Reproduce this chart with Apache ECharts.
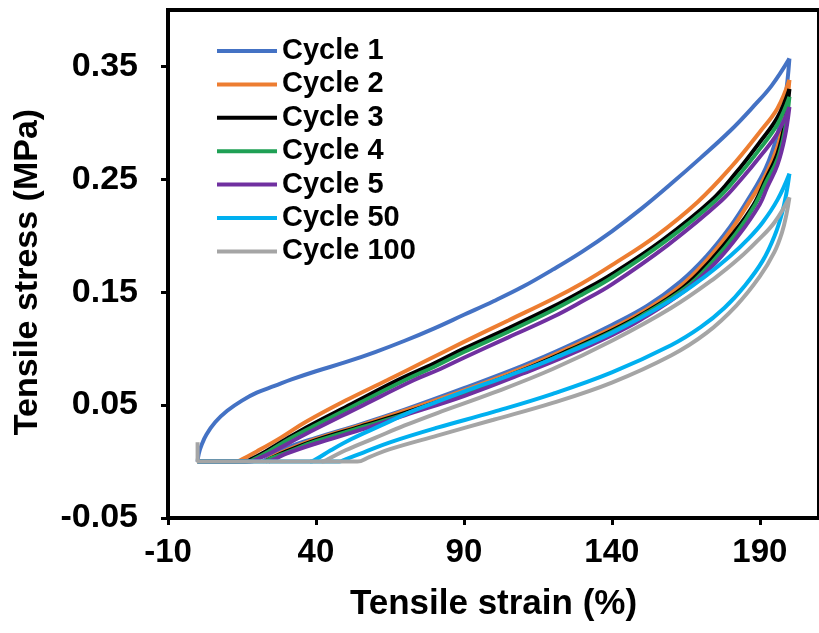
<!DOCTYPE html>
<html lang="en">
<head>
    <meta charset="UTF-8">
    <title>Cyclic tensile test</title>
    <script src="https://cdn.jsdelivr.net/npm/echarts/dist/echarts.min.js"></script>
    <style>
        html, body {margin: 0; padding: 0; background: #fff;}
    </style>
</head>
<body>
<div id="cycleChart" style="width: 819px;height: 633px;"></div>
<script type="text/javascript">
    // [strain %, stress MPa] - loading branch and unloading branch of each cycle
    var cycle1Load = [[0,0],[0.4,0.007],[1.4,0.015],[3,0.024],[6,0.035],[10,0.045],[15,0.054],[20,0.061],[26,0.067],[32,0.073],[40,0.08],[50,0.088],[60,0.097],[70,0.107],[80,0.118],[90,0.13],[100,0.142],[110,0.155],[120,0.17],[130,0.186],[140,0.204],[150,0.224],[160,0.246],[170,0.269],[180,0.293],[188,0.315],[194,0.333],[200,0.357]];
    var cycle1Unload = [[200,0.357],[198.5,0.32],[196,0.29],[192,0.26],[186,0.232],[180,0.208],[172,0.182],[163,0.159],[152,0.138],[140,0.121],[125,0.102],[110,0.085],[90,0.065],[70,0.046],[55,0.033],[40,0.021],[30,0.012],[25,0.005],[22,0]];
    var cycle2Load = [[0,0],[13,0],[15,0.002],[20,0.009],[28,0.021],[36.5,0.035],[50,0.054],[64,0.072],[77,0.089],[90,0.106],[105,0.125],[120,0.144],[130,0.158],[140,0.174],[155,0.2],[169,0.23],[180,0.26],[190,0.292],[196,0.313],[200,0.338]];
    var cycle2Unload = [[200,0.338],[198.5,0.306],[196,0.279],[192,0.254],[186,0.228],[180,0.204],[172,0.178],[163,0.155],[150,0.132],[140,0.118],[125,0.1],[110,0.083],[90,0.063],[70,0.045],[55,0.032],[40,0.02],[30,0.01],[25,0.004],[23,0]];
    var cycle3Load = [[0,0],[16,0],[18,0.002],[23,0.009],[30,0.02],[38,0.032],[52,0.051],[67.5,0.072],[80,0.087],[90,0.1],[105,0.118],[120,0.137],[130,0.151],[140,0.166],[157,0.196],[173.5,0.231],[182,0.256],[190,0.283],[196,0.305],[200,0.33]];
    var cycle3Unload = [[200,0.33],[198.5,0.3],[196,0.273],[192,0.25],[188,0.228],[181,0.202],[173,0.177],[164,0.154],[150,0.13],[140,0.116],[125,0.098],[110,0.081],[90,0.061],[70,0.043],[55,0.031],[40,0.019],[30,0.009],[25,0.003],[23,0]];
    var cycle4Load = [[0,0],[17,0],[19,0.002],[24,0.009],[31,0.02],[39,0.031],[54,0.051],[70,0.072],[80,0.084],[90,0.097],[105,0.115],[120,0.134],[130,0.148],[140,0.163],[158,0.195],[175,0.231],[183,0.254],[190,0.277],[196,0.299],[200,0.323]];
    var cycle4Unload = [[200,0.323],[198.5,0.294],[196,0.268],[192,0.247],[188.5,0.228],[182,0.202],[174,0.177],[165,0.154],[150,0.129],[140,0.115],[125,0.097],[110,0.08],[90,0.06],[70,0.042],[55,0.03],[40,0.018],[30,0.008],[25,0.003],[23,0]];
    var cycle5Load = [[0,0],[18,0],[20,0.002],[25,0.008],[32,0.018],[40,0.029],[56,0.05],[73,0.072],[82,0.082],[90,0.092],[105,0.11],[120,0.128],[130,0.142],[140,0.157],[159,0.192],[177,0.231],[184,0.251],[190,0.27],[196,0.291],[200,0.314]];
    var cycle5Unload = [[200,0.314],[198.5,0.288],[196,0.263],[192.5,0.243],[190,0.228],[183,0.201],[175,0.176],[165,0.152],[150,0.126],[140,0.112],[125,0.094],[110,0.078],[90,0.058],[70,0.041],[55,0.028],[40,0.016],[30,0.007],[26,0.002],[24,0]];
    var cycle50Load = [[0,0],[38,0],[40,0.002],[45,0.01],[52,0.02],[62,0.032],[72,0.044],[81,0.053],[90,0.062],[105,0.076],[120,0.091],[140,0.114],[160,0.143],[172,0.165],[180,0.182],[186,0.197],[191,0.212],[196,0.232],[200,0.255]];
    var cycle50Unload = [[200,0.255],[199,0.238],[197.5,0.22],[195,0.2],[191,0.178],[185,0.156],[178,0.136],[170,0.119],[160,0.103],[140,0.079],[120,0.06],[100,0.044],[81,0.03],[65,0.017],[56,0.008],[50,0.002],[48,0],[46,0],[38,0]];
    var cycle100Load = [[0,0.017],[0,0],[42,0],[44,0.002],[50,0.01],[60,0.021],[70,0.032],[81,0.043],[100,0.061],[120,0.082],[140,0.107],[160,0.136],[175,0.163],[183,0.18],[189,0.195],[195,0.212],[200,0.234]];
    var cycle100Unload = [[200,0.234],[199,0.219],[197.5,0.203],[195,0.186],[190,0.164],[182,0.138],[172,0.114],[160,0.094],[140,0.07],[120,0.052],[100,0.037],[81,0.023],[65,0.011],[58,0.004],[54,0],[52,0],[42,0]];

    var cycleNames = ['Cycle 1', 'Cycle 2', 'Cycle 3', 'Cycle 4', 'Cycle 5', 'Cycle 50', 'Cycle 100'];
    var loadData = [cycle1Load, cycle2Load, cycle3Load, cycle4Load, cycle5Load, cycle50Load, cycle100Load];
    var unloadData = [cycle1Unload, cycle2Unload, cycle3Unload, cycle4Unload, cycle5Unload, cycle50Unload, cycle100Unload];
    var cycleColors = ['#4472C4', '#ED7D31', '#000000', '#1FA055', '#7030A0', '#00B0F0', '#A5A5A5'];
    var xTicks = [-10, 40, 90, 140, 190];
    var yTicks = [-0.05, 0.05, 0.15, 0.25, 0.35];

    var fontName = "'Liberation Sans', Arial, sans-serif";

    var seriesList = [];
    for (var i = 0; i < cycleNames.length; i++) {
        var branches = [loadData[i], unloadData[i]];
        for (var j = 0; j < branches.length; j++) {
            seriesList.push({
                name: cycleNames[i],
                type: 'line',
                data: branches[j],
                smooth: 0.4,
                showSymbol: false,
                symbol: 'none',
                lineStyle: {width: 4, color: cycleColors[i]},
                itemStyle: {color: cycleColors[i]}
            });
        }
    }

    var chart = echarts.init(document.getElementById('cycleChart'));
    var option = {
        animation: false,
        backgroundColor: '#fff',
        grid: {
            left: 168,
            top: 10,
            width: 658,
            height: 508,
            show: true,
            borderColor: '#000',
            borderWidth: 4
        },
        legend: {
            orient: 'vertical',
            left: 212,
            top: 31,
            icon: 'rect',
            itemWidth: 60,
            itemHeight: 4,
            itemGap: 3.4,
            data: cycleNames,
            textStyle: {
                fontFamily: fontName,
                fontWeight: 'bold',
                fontSize: 29,
                lineHeight: 30,
                color: '#000'
            }
        },
        xAxis: {
            type: 'value',
            min: -10,
            max: 210,
            interval: 50,
            name: 'Tensile strain (%)',
            nameLocation: 'middle',
            nameGap: 69,
            nameTextStyle: {fontFamily: fontName, fontWeight: 'bold', fontSize: 35, color: '#000'},
            splitLine: {show: false},
            axisLine: {onZero: false, lineStyle: {color: '#000', width: 4}},
            axisTick: {show: true, length: 7, lineStyle: {color: '#000', width: 3}, customValues: xTicks},
            axisLabel: {
                customValues: xTicks,
                margin: 18,
                fontFamily: fontName, fontWeight: 'bold', fontSize: 33, color: '#000'
            }
        },
        yAxis: {
            type: 'value',
            min: -0.05,
            max: 0.4,
            interval: 0.1,
            name: 'Tensile stress (MPa)',
            nameLocation: 'middle',
            nameGap: 123,
            nameTextStyle: {fontFamily: fontName, fontWeight: 'bold', fontSize: 34, color: '#000', padding: [0, 16, 0, 0]},
            splitLine: {show: false},
            axisLine: {onZero: false, lineStyle: {color: '#000', width: 4}},
            axisTick: {show: true, length: 7, lineStyle: {color: '#000', width: 3}, customValues: yTicks},
            axisLabel: {
                customValues: yTicks,
                margin: 30,
                formatter: function (v) { return v.toFixed(2); },
                fontFamily: fontName, fontWeight: 'bold', fontSize: 34, color: '#000'
            }
        },
        series: seriesList
    };
    chart.setOption(option);
</script>
</body>
</html>
